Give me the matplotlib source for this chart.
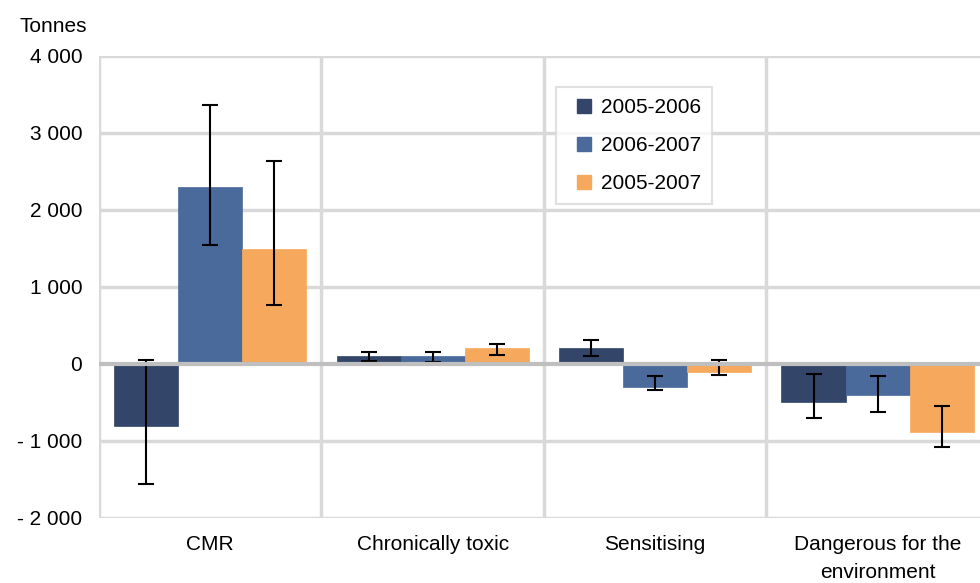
import matplotlib
matplotlib.use("Agg")
import matplotlib.pyplot as plt
from matplotlib.lines import Line2D
import numpy as np

plt.rcParams['font.family'] = ['Liberation Sans', 'DejaVu Sans']

categories = ["CMR", "Chronically toxic", "Sensitising", "Dangerous for the\nenvironment"]
series = ["2005-2006", "2006-2007", "2005-2007"]
colors = ["#33466A", "#4A6A9C", "#F6A95C"]

# bar values (tonnes)
v_0506 = [-810, 100, 200, -500]
v_0607 = [2300, 100, -295, -400]
v_0507 = [1490, 205, -105, -885]
values = [v_0506, v_0607, v_0507]

# error bar ends (low, high)
lo_0506 = [-1555, 40, 100, -705]
hi_0506 = [45, 150, 305, -135]
lo_0607 = [1545, 30, -340, -625]
hi_0607 = [3355, 150, -160, -160]
lo_0507 = [770, 120, -140, -1085]
hi_0507 = [2630, 258, 45, -550]
lows = [lo_0506, lo_0607, lo_0507]
highs = [hi_0506, hi_0607, hi_0507]

yticks = [-2000, -1000, 0, 1000, 2000, 3000, 4000]
ytick_labels = ["- 2 000", "- 1 000", "0", "1 000", "2 000", "3 000", "4 000"]

fig = plt.figure(figsize=(9.8, 5.83), dpi=100)
ax = fig.add_axes([0.101, 0.1115, 0.908, 0.793])

grid_c = "#D9D9D9"
x = np.arange(len(categories))
w = 0.288
for i, (vals, lo, hi) in enumerate(zip(values, lows, highs)):
    vals = np.array(vals, dtype=float)
    yerr = [vals - np.array(lo), np.array(hi) - vals]
    ax.bar(x + (i - 1) * w, vals, width=w, color=colors[i], edgecolor=colors[i],
           linewidth=0.5, zorder=3)
    ax.errorbar(x + (i - 1) * w, vals, yerr=yerr, fmt='none', ecolor='black',
                elinewidth=1.5, capsize=5.5, capthick=1.5, zorder=4)

ax.set_xlim(-0.5, len(categories) - 0.5)
ax.set_ylim(-2000, 4000)
ax.set_yticks(yticks)
ax.set_yticklabels(ytick_labels)
ax.set_xticks(x)
ax.set_xticklabels(categories, linespacing=1.65)
ax.tick_params(axis='both', length=0, labelsize=15, colors='black')
ax.tick_params(axis='y', pad=12)
ax.tick_params(axis='x', pad=12)

for yv in yticks:
    if yv == 0:
        continue
    ax.axhline(yv, color=grid_c, linewidth=2.5, zorder=1)
for xv in np.arange(-0.5, len(categories), 1.0):
    ax.axvline(xv, color=grid_c, linewidth=2.5, zorder=1)
ax.axhline(0, color="#BFBFBF", linewidth=3, zorder=5)

for s in ax.spines.values():
    s.set_visible(False)

fig.text(0.02, 0.955, "Tonnes", fontsize=15, ha='left', va='center')

# square markers centred in a wide handle box give the extra left padding
handles = [Line2D([], [], linestyle='none', marker='s', markersize=9.4,
                  markerfacecolor=c, markeredgecolor=c) for c in colors]
leg = ax.legend(handles, series, loc='upper left', bbox_to_anchor=(556 / 980, 1 - 87 / 583),
                bbox_transform=fig.transFigure, fontsize=15, frameon=True, fancybox=False,
                handlelength=1.6, handletextpad=0.0,
                labelspacing=0.9, borderpad=0.55, borderaxespad=0)
leg.get_frame().set_edgecolor(grid_c)
leg.get_frame().set_linewidth(1.5)
leg.set_zorder(6)

fig.savefig("out.png", dpi=100)
